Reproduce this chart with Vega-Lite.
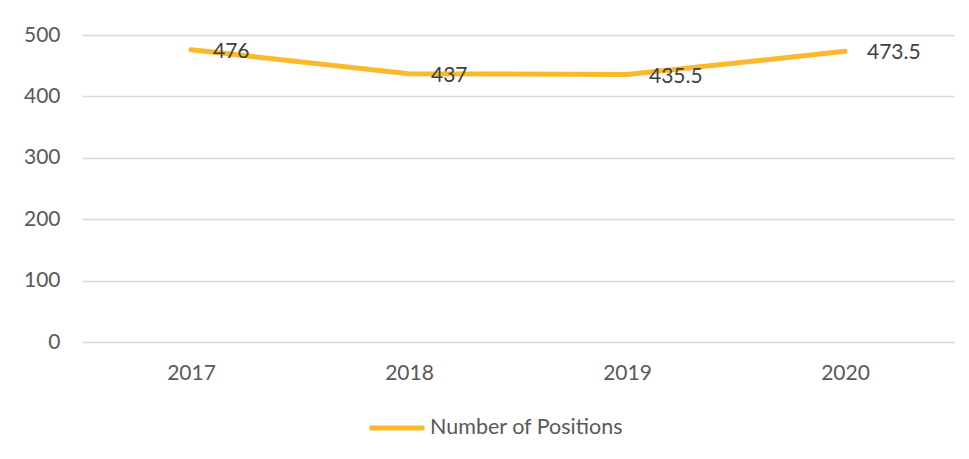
{
  "$schema": "https://vega.github.io/schema/vega-lite/v6.json",
  "width": 872,
  "height": 307,
  "autosize": "none",
  "padding": {"left": 82, "top": 35, "right": 15, "bottom": 117},
  "background": "white",
  "config": {
    "view": {"stroke": null},
    "font": "Lato",
    "axis": {"labelFont": "Lato", "labelFontSize": 21, "labelColor": "#595959"}
  },
  "data": {
    "values": [
      {"year": "2017", "value": 476, "label": "476", "series": "Number of Positions"},
      {"year": "2018", "value": 437, "label": "437", "series": "Number of Positions"},
      {"year": "2019", "value": 435.5, "label": "435.5", "series": "Number of Positions"},
      {"year": "2020", "value": 473.5, "label": "473.5", "series": "Number of Positions"}
    ]
  },
  "encoding": {
    "x": {
      "field": "year",
      "type": "ordinal",
      "scale": {"type": "point", "padding": 0.5},
      "axis": {"title": null, "labelAngle": 0, "domain": false, "ticks": false, "labelPadding": 20, "grid": false}
    },
    "y": {
      "field": "value",
      "type": "quantitative",
      "scale": {"domain": [0, 500], "nice": false},
      "axis": {"title": null, "values": [0, 100, 200, 300, 400, 500], "domain": false, "ticks": false, "labelPadding": 22, "gridColor": "#D9D9D9", "gridWidth": 1.5}
    }
  },
  "layer": [
    {
      "mark": {"type": "line", "strokeWidth": 5, "strokeCap": "round", "strokeJoin": "round"},
      "encoding": {
        "color": {
          "field": "series",
          "type": "nominal",
          "scale": {"range": ["#FAB82A"]},
          "legend": {
            "title": null,
            "orient": "none",
            "legendX": 285,
            "legendY": 363,
            "direction": "horizontal",
            "symbolType": "stroke",
            "symbolSize": 3025,
            "symbolStrokeWidth": 5,
            "labelFont": "Lato",
            "labelFontSize": 21.5,
            "labelColor": "#595959",
            "labelLimit": 400,
            "labelOffset": 3,
            "padding": 0
          }
        }
      }
    },
    {
      "mark": {"type": "text", "align": "left", "baseline": "middle", "dx": 22, "dy": 2, "font": "Lato", "fontSize": 21, "color": "#404040"},
      "encoding": {"text": {"field": "label"}}
    }
  ]
}
